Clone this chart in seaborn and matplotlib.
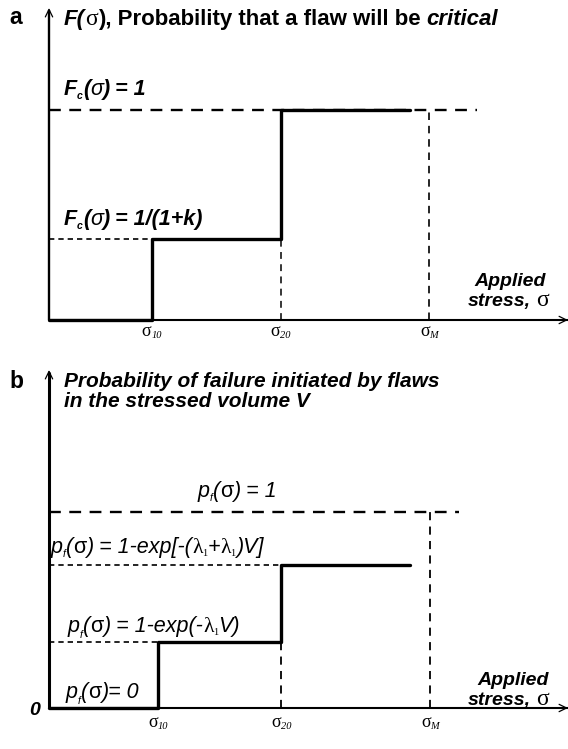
import matplotlib
matplotlib.use("Agg")
import matplotlib.pyplot as plt
import seaborn as sns
import pandas as pd

# ---- schematic values (stress in units of sigma_M, probabilities normalised to 1) ----
sigma_names = ["10", "20", "M"]

# panel a: fraction of flaws that are critical
a_sigma = [0.27, 0.61, 1.0]          # sigma_10, sigma_20, sigma_M
a_levels = [0.0, 0.385, 1.0]          # F_c below sigma_10, between, above sigma_20
a_step_end = 0.95
a_one_end = 1.125

# panel b: probability of failure in volume V
b_sigma = [0.287, 0.609, 1.0]
b_levels = [0.0, 0.337, 0.73]
b_one = 1.0
b_step_end = 0.948
b_one_end = 1.075

W, H = 568, 749
sns.set_theme(style="white")
plt.rcParams["font.family"] = ["Liberation Sans", "DejaVu Sans"]

fig = plt.figure(figsize=(W / 100, H / 100), dpi=100)
fig.patch.set_facecolor("white")


def frame(left, bottom, right, top):
    ax = fig.add_axes([left / W, (H - bottom) / H, (right - left) / W, (bottom - top) / H])
    ax.set_axis_off()
    return ax


ax_a = frame(49, 320, 568, 8)
ax_b = frame(49, 708, 568, 370)
a_xmax, a_ymax = 519 / 380, 312 / 210
b_xmax, b_ymax = 519 / 381, 338 / 196


def step_frame(sig, lev, end):
    xs = [0, sig[0], sig[0], sig[1], sig[1], end]
    ys = [lev[0], lev[0], lev[1], lev[1], lev[2], lev[2]]
    return pd.DataFrame({"stress": xs, "prob": ys})


def axes_arrows(ax, xmax, ymax, ylw):
    ax.plot([0, 0], [0, ymax * 0.995], color="black", lw=ylw, clip_on=False,
            solid_capstyle="butt", zorder=5)
    ax.plot([0, xmax], [0, 0], color="black", lw=1.5, clip_on=False,
            solid_capstyle="butt", zorder=5)
    head = dict(arrowstyle="->,head_length=0.45,head_width=0.22", lw=0.9,
                color="black", shrinkA=0, shrinkB=0)
    ax.annotate("", xy=(0, ymax), xytext=(0, ymax * 0.9), arrowprops=head,
                annotation_clip=False)
    ax.annotate("", xy=(xmax, 0), xytext=(xmax * 0.95, 0), arrowprops=head,
                annotation_clip=False)


SHORT = (0, (3.2, 2.4))
MED = (0, (4.5, 3.5))
LONG = (0, (5.0, 3.6))

# ---- panel a ----
ax = ax_a
ax.hlines(1.0, 0, a_one_end, colors="black", lw=1.7, linestyles=LONG, clip_on=False)
ax.hlines(a_levels[1], 0, a_sigma[0], colors="black", lw=1.2, linestyles=SHORT)
ax.vlines(a_sigma[1], 0, a_levels[1], colors="black", lw=1.1, linestyles=MED)
ax.vlines(a_sigma[2], 0, 1.0, colors="black", lw=1.2, linestyles=MED)
sns.lineplot(data=step_frame(a_sigma, a_levels, a_step_end), x="stress", y="prob",
             estimator=None, sort=False, color="black", lw=2.4, ax=ax, clip_on=False,
             zorder=4)
axes_arrows(ax, a_xmax, a_ymax, 1.7)
ax.set_xlim(0, a_xmax)
ax.set_ylim(0, a_ymax)
ax.set_axis_off()

# ---- panel b ----
ax = ax_b
ax.hlines(b_one, 0, b_one_end, colors="black", lw=1.7, linestyles=LONG, clip_on=False)
ax.vlines(b_sigma[2], 0, b_one, colors="black", lw=1.3, linestyles=MED)
ax.hlines(b_levels[2], 0, b_sigma[1], colors="black", lw=1.2, linestyles=SHORT)
ax.hlines(b_levels[1], 0, b_sigma[0], colors="black", lw=1.2, linestyles=SHORT)
ax.vlines(b_sigma[1], 0, b_levels[1], colors="black", lw=1.3, linestyles=MED)
sns.lineplot(data=step_frame(b_sigma, b_levels, b_step_end), x="stress", y="prob",
             estimator=None, sort=False, color="black", lw=2.4, ax=ax, clip_on=False,
             zorder=4)
axes_arrows(ax, b_xmax, b_ymax, 2.2)
ax.set_xlim(0, b_xmax)
ax.set_ylim(0, b_ymax)
ax.set_axis_off()

# ---- mixed-style text ----
renderer = fig.canvas.get_renderer()
SANS = "Liberation Sans"
SERIF = "Liberation Serif"
BI = dict(family=SANS, weight="bold", style="italic")
B = dict(family=SANS, weight="bold")
I = dict(family=SANS, style="italic")
R = dict(family=SANS)
SR = dict(family=SERIF)
SI = dict(family=SERIF, style="italic")


def width_of(s, style, size):
    t = fig.text(0, 0, s, fontsize=size, **style)
    w = t.get_window_extent(renderer).width
    t.remove()
    return w


def space_w(style, size):
    return width_of("x x", style, size) - width_of("xx", style, size)


def rich(px, py, parts, ha="left"):
    """Write pieces of differently styled text one after another on a baseline.

    px, py are pixel positions from the top-left corner; an optional fourth
    item per piece lowers it by that many pixels (for subscripts)."""
    x = px
    made = []
    for part in parts:
        s, style, size = part[:3]
        drop = part[3] if len(part) > 3 else 0
        sp = space_w(style, size)
        lead = len(s) - len(s.lstrip(" "))
        trail = len(s) - len(s.rstrip(" "))
        core = s.strip(" ")
        x += lead * sp
        if core:
            t = fig.text(x / W, (H - py - drop) / H, core, fontsize=size, va="baseline",
                         ha="left", color="black", **style)
            made.append(t)
            x = t.get_window_extent(renderer).x1
        x += trail * sp
    if ha == "center":
        shift = (x - px) / 2
        for t in made:
            cx, cy = t.get_position()
            t.set_position((cx - shift / W, cy))
    return made


def data_px(ax, xd, yd=0.0):
    dx, dy = ax.transData.transform((xd, yd))
    return dx, H - dy


FS = 15.5   # label size on the curves
AX = 14     # axis caption size
SUB = 7.5   # subscript size

# panel letters
rich(9, 24, [("a", B, 16.5)])
rich(9, 388, [("b", B, 16.5)])

# panel a labels
rich(64, 25, [("F(", BI, 16), ("σ", SR, 17), ("), Probability that a flaw will be ", B, 16),
              ("critical", BI, 16)])
rich(64, 95, [("F", BI, FS), ("c", BI, SUB, 4), ("(", BI, FS), ("σ", I, FS),
              (") = 1", BI, FS)])
rich(64, 225, [("F", BI, FS), ("c", BI, SUB, 4), ("(", BI, FS), ("σ", I, FS),
               (") = 1/(1+k)", BI, FS)])
rich(474, 286, [("Applied", BI, AX)])
rich(468, 306, [("stress, ", BI, AX), ("σ", SR, AX + 3)])

for xv, name in zip(a_sigma, sigma_names):
    px, _ = data_px(ax_a, xv)
    rich(px, 336, [("σ", SR, 13), (name, SI, 7.5, 2)], ha="center")

# panel b labels
rich(64, 387, [("Probability of failure initiated by flaws", BI, 15)])
rich(64, 407, [("in the stressed volume V", BI, 15)])
rich(198, 497, [("p", I, FS), ("f", I, SUB, 4), ("(", I, FS), ("σ", R, FS),
                (") = 1", I, FS)])
rich(51, 553, [("p", I, FS), ("f", I, SUB, 4), ("(", I, FS), ("σ", R, FS),
               (") = 1-exp[-(", I, FS), ("λ", SR, FS), ("1", SR, SUB, 3),
               ("+", I, FS), ("λ", SR, FS), ("1", SR, SUB, 3), (")V]", I, FS)])
rich(68, 632, [("p", I, FS), ("f", I, SUB, 6), ("(", I, FS), ("σ", R, FS),
               (") = 1-exp(-", I, FS), ("λ", SR, FS), ("1", SR, SUB, 3),
               ("V)", I, FS)])
rich(66, 698, [("p", I, FS), ("f", I, SUB, 6), ("(", I, FS), ("σ", R, FS),
               (")= 0", I, FS)])
rich(29, 715, [("0", BI, 14)])
rich(477, 685, [("Applied", BI, AX)])
rich(468, 705, [("stress, ", BI, AX), ("σ", SR, AX + 3)])

for xv, name in zip(b_sigma, sigma_names):
    px, _ = data_px(ax_b, xv)
    rich(px, 727, [("σ", SR, 13), (name, SI, 7.5, 2)], ha="center")

fig.savefig("out.png", dpi=100, facecolor="white")
